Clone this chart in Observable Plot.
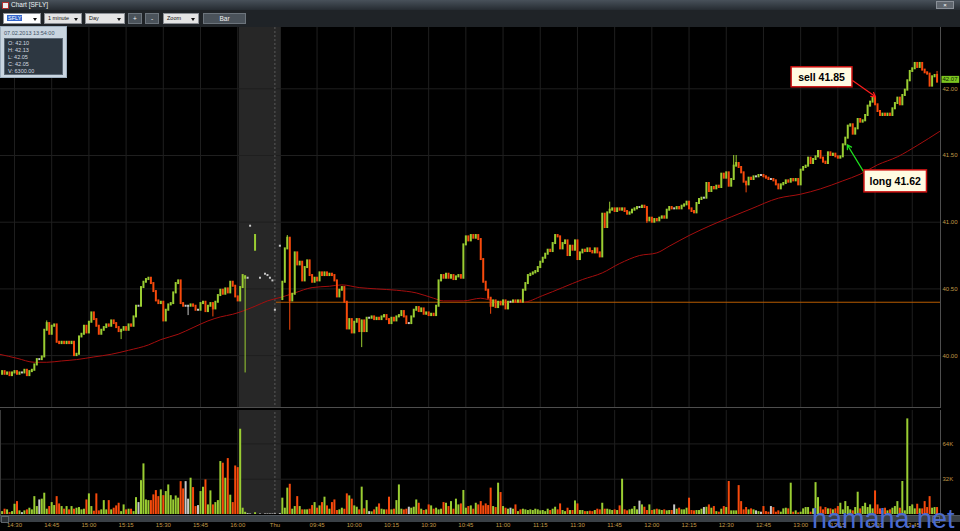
<!DOCTYPE html>
<html>
<head>
<meta charset="utf-8">
<script src="https://cdn.jsdelivr.net/npm/d3@7"></script>
<script src="https://cdn.jsdelivr.net/npm/@observablehq/plot@0.6"></script>
<style>
html,body{margin:0;padding:0;background:#000;}
#wrap{position:relative;width:960px;height:531px;overflow:hidden;background:#000;font-family:"Liberation Sans",Arial,sans-serif;}
#wrap svg{position:absolute;left:0;z-index:1;}
.a{position:absolute;box-sizing:border-box;z-index:2;}
#titlebar{left:0;top:0;width:960px;height:10px;background:linear-gradient(#48515a,#262c32);}
#icon{left:2px;top:1.5px;width:7px;height:7px;background:#eeeeee;border:1px solid #b03030;}
#title{left:11px;top:0;height:10px;line-height:10px;font-size:6.5px;color:#eef2f5;white-space:nowrap;}
#closebtn{left:936px;top:1px;width:18px;height:8px;background:#5f666e;border:1px solid #8a9098;color:#fff;font-size:6px;line-height:6px;text-align:center;}
#toolbar{left:0;top:10px;width:960px;height:17px;background:#1f2327;}
.sel{top:13px;height:11px;background:#e4e4e4;border:1px solid #8c9096;font-size:5.5px;line-height:9px;color:#111;padding-left:3px;white-space:nowrap;}
.sel::after{content:"";position:absolute;right:3px;top:3.5px;border-left:2.5px solid transparent;border-right:2.5px solid transparent;border-top:3px solid #111;}
.btn{top:13px;height:11px;background:#4a525a;border:1px solid #6c747c;font-size:6.5px;line-height:9px;color:#f0f0f0;text-align:center;}
#sym{background:#fff;}
#sym span{background:#3366cc;color:#fff;padding:0 1px;}
#info{left:0;top:26px;width:67px;height:52px;background:#c9d5e0;border:1px solid #9fb0c0;}
#infohead{position:absolute;left:3px;top:3px;font-size:5.5px;color:#3e5064;white-space:nowrap;}
#infobody{position:absolute;left:3px;top:11px;width:59px;height:37px;background:#2d3741;border:1px solid #5b6875;font-size:5.5px;color:#d5dbe0;line-height:6.9px;padding:1px 0 0 3px;box-sizing:border-box;white-space:pre;}
#sep{left:0;top:407px;width:941px;height:1px;background:#4e4e4e;}
#rax1{left:940px;top:27px;width:1px;height:381px;background:#4e4e4e;}
#rax2{left:940px;top:410px;width:1px;height:105px;background:#4e4e4e;}
#lax2{left:0;top:410px;width:1px;height:105px;background:#3a3a3a;}
#scroll{left:0;top:515px;width:960px;height:7px;background:#3a4046;border-top:1px solid #50575e;}
#scroll .l,#scroll .r{position:absolute;top:0;width:6px;height:5px;background:#2a2f34;border:1px solid #5c636a;}
#scroll .l{left:1px;}#scroll .r{right:20px;}
#wm{left:812px;top:508px;font-size:27px;line-height:22px;height:22px;color:#4a6bd0;white-space:nowrap;z-index:3;}
</style>
</head>
<body>
<div id="wrap">
  <div class="a" id="titlebar"></div>
  <div class="a" id="icon"></div>
  <div class="a" id="title"></div>
  <div class="a" id="closebtn">×</div>
  <div class="a" id="toolbar"></div>
  <div class="a sel" id="sym" style="left:3px;width:38px;"><span></span></div>
  <div class="a sel" id="interval" style="left:44px;width:38px;"></div>
  <div class="a sel" id="range" style="left:85px;width:40px;"></div>
  <div class="a btn" id="plus" style="left:128px;width:14px;"></div>
  <div class="a btn" id="minus" style="left:145px;width:14px;"></div>
  <div class="a sel" id="zoomsel" style="left:163px;width:36px;"></div>
  <div class="a btn" id="barbtn" style="left:203px;width:43px;"></div>
  <div class="a" id="info"><div id="infohead"></div><div id="infobody"></div></div>
  <div class="a" id="sep"></div>
  <div class="a" id="rax1"></div>
  <div class="a" id="rax2"></div>
  <div class="a" id="lax2"></div>
  <div class="a" id="scroll"><div class="l"></div><div class="r"></div></div>
  <div class="a" id="wm"></div>
</div>
<script>
// ---------------- DATA ----------------
const windowTitle = "Chart [SFLY]";
const symbol = "SFLY";
const intervalText = "1 minute";
const rangeText = "Day";
const zoomText = "Zoom";
const barText = "Bar";
const watermark = "hamaha.net";
const quoteTime = "07.02.2013 13:54:00";

// bar index k: 14:30 Wed = 0, one bar per minute
const tickK = [0,15,30,45,60,75,90,105,122,137,152,167,182,197,212,227,242,257,272,287,302,317,332,347,362];
const tickLabel = ["14:30","14:45","15:00","15:15","15:30","15:45","16:00","Thu","09:45","10:00","10:15","10:30","10:45","11:00","11:15","11:30","11:45","12:00","12:15","12:30","12:45","13:00","13:15","13:30","13:45"];
const priceTicks = [40.00, 40.50, 41.00, 41.50, 42.00];
const volumeTicks = [32, 64]; // thousands

// Wednesday session (k = -5 .. 92)
const wedStartK = -5;
const wedFirstOpen = 39.86;
const wedClose = [
 39.88,39.86,39.87,39.85,39.87,39.88,39.86,39.87,39.87,39.89,
 39.85,39.88,39.89,39.93,39.97,39.97,39.99,40.19,40.24,40.16,
 40.22,40.23,40.10,40.09,40.10,40.09,40.10,40.09,40.10,40.00,
 40.01,40.14,40.16,40.22,40.17,40.25,40.32,40.27,40.22,40.16,
 40.19,40.21,40.23,40.22,40.26,40.24,40.21,40.18,40.19,40.21,
 40.19,40.23,40.22,40.29,40.37,40.37,40.51,40.55,40.57,40.58,
 40.54,40.48,40.41,40.39,40.40,40.26,40.34,40.38,40.39,40.47,
 40.54,40.56,40.39,40.37,40.37,40.37,40.38,40.37,40.34,40.34,
 40.39,40.40,40.33,40.37,40.39,40.35,40.40,40.45,40.49,40.46,
 40.50,40.47,40.55,40.52,40.44,40.41,40.51,40.60];
const wedVolume = [
 2.6,4.8,4.2,1.7,2.6,9.3,11.7,3.3,1.7,3.3,
 4.2,5.7,4.2,16.2,7.2,13.2,13.9,19.3,4.8,7.2,
 10.8,8.1,16.2,9.6,7.2,4.8,7.2,4.2,7.2,4.8,
 5.7,6.3,4.2,4.8,13.2,18.7,7.2,3.0,18.7,3.3,
 4.2,12.6,4.2,12.6,4.2,5.7,7.8,10.2,2.6,8.7,
 4.2,4.8,4.8,2.6,15.3,10.8,30.7,45.9,13.2,12.6,
 12.6,17.8,21.7,16.2,22.3,17.1,20.8,26.8,17.1,13.2,
 16.8,14.8,29.8,23.2,29.8,13.9,32.9,24.4,7.2,8.1,
 20.8,24.7,31.4,8.7,21.4,8.7,10.8,12.6,48,46.5,
 32.9,50.7,17.5,10.8,44,42.5,77.3,5.7];

// extended-hours prints
const ahK      = [93, 94, 95, 97, 99, 101, 102, 103, 104, 105, 107];
const ahOpen   = [40.58,40.58,40.97,40.79,40.58,40.61,40.60,40.58,40.56,40.34,40.82];
const ahClose  = [40.59,40.58,40.97,40.90,40.58,40.61,40.60,40.58,40.56,40.34,40.82];
const ahVolume = [2.0,0.8,0.5,1.6,0.5,0.5,0.5,0.5,0.5,0.6,0.8];

// Thursday session (k = 108 .. 372)
const thuStartK = 108;
const thuFirstOpen = 40.42;
const thuClose = [
 40.55,40.80,40.88,40.41,40.46,40.77,40.68,40.70,40.56,40.66,
 40.71,40.60,40.55,40.58,40.56,40.62,40.60,40.62,40.60,40.61,
 40.60,40.56,40.44,40.49,40.51,40.40,40.20,40.27,40.17,40.25,
 40.27,40.18,40.26,40.18,40.28,40.28,40.29,40.27,40.28,40.27,
 40.29,40.30,40.27,40.24,40.28,40.26,40.29,40.30,40.33,40.29,
 40.24,40.24,40.29,40.34,40.36,40.33,40.35,40.31,40.32,40.30,
 40.31,40.30,40.37,40.56,40.60,40.58,40.61,40.58,40.60,40.57,
 40.59,40.60,40.58,40.83,40.89,40.86,40.90,40.88,40.90,40.87,
 40.72,40.55,40.49,40.43,40.37,40.41,40.36,40.40,40.38,40.41,
 40.35,40.40,40.40,40.41,40.40,40.41,40.40,40.49,40.54,40.60,
 40.61,40.62,40.63,40.66,40.70,40.73,40.76,40.79,40.78,40.84,
 40.90,40.89,40.80,40.84,40.86,40.75,40.82,40.79,40.86,40.72,
 40.77,40.79,40.78,40.80,40.78,40.77,40.80,40.77,40.74,41.06,
 40.96,41.07,41.09,41.10,41.08,41.10,41.09,41.10,41.08,41.06,
 41.07,41.09,41.10,41.11,41.11,41.12,41.11,41.01,41.03,41.00,
 41.02,41.01,41.03,41.04,41.03,41.09,41.11,41.10,41.10,41.11,
 41.10,41.12,41.13,41.15,41.10,41.08,41.07,41.14,41.17,41.18,
 41.18,41.29,41.23,41.26,41.25,41.27,41.26,41.36,41.33,41.37,
 41.27,41.32,41.42,41.44,41.41,41.37,41.30,41.28,41.33,41.32,
 41.34,41.34,41.35,41.35,41.34,41.33,41.32,41.32,41.31,41.28,
 41.25,41.28,41.29,41.31,41.30,41.32,41.31,41.32,41.28,41.39,
 41.41,41.42,41.48,41.44,41.47,41.49,41.53,41.48,41.45,41.44,
 41.52,41.50,41.51,41.49,41.48,41.49,41.58,41.63,41.72,41.73,
 41.66,41.70,41.77,41.75,41.76,41.80,41.87,41.90,41.93,41.88,
 41.83,41.80,41.81,41.80,41.81,41.80,41.85,41.89,41.93,41.88,
 41.95,41.99,42.06,42.13,42.15,42.19,42.16,42.19,42.14,42.12,
 42.11,42.02,42.09,42.10,42.05];
const thuVolume = [
 14.8,5.7,23.9,27.4,4.8,7.2,16.2,7.2,4.2,4.2,
 4.2,4.8,8.1,10.8,5.7,7.8,10.8,15.7,7.8,4.8,
 10.8,13.2,3.6,4.2,5.7,4.8,18.7,16.9,13.9,7.8,
 6.6,4.2,24.8,5.1,12.6,2.6,2.4,4.2,6.6,9.6,
 4.8,4.2,4.2,15.7,4.2,4.8,12.6,26.8,4.8,4.2,
 4.8,6.6,5.7,6.6,13.2,10.2,4.8,3.6,4.2,8.7,
 7.8,4.8,5.7,4.2,4.8,10.8,10.2,7.2,11.7,4.8,
 13.9,8.7,9.6,21.8,5.7,7.2,7.8,4.8,10.2,8.7,
 11.7,7.8,9.6,8.1,23.9,7.2,6.3,28.4,19.9,7.2,
 5.7,4.8,5.7,4.8,8.7,2.6,4.2,4.8,4.2,3.6,
 4.2,3.6,4.8,4.2,3.3,3.6,2.6,4.8,3.6,4.8,
 6.6,4.2,9.6,3.6,2.6,5.7,3.6,3.6,12.3,9.6,
 3.6,3.6,2.6,2.6,3.0,2.6,3.6,4.8,4.2,10.2,
 4.8,4.8,4.2,3.6,4.2,3.6,7.8,32.0,4.2,3.3,
 4.2,4.8,7.2,4.2,12.1,8.7,6.6,3.6,8.7,3.6,
 4.2,4.8,4.2,3.6,4.2,3.3,3.6,3.6,8.7,4.8,
 5.7,4.2,4.2,5.7,14.8,3.6,3.3,3.6,3.6,4.8,
 6.3,6.6,8.7,5.7,7.2,2.6,2.1,4.8,7.2,6.3,
 29.9,3.3,3.3,3.3,26.2,11.7,4.2,6.3,4.2,5.1,
 4.2,3.3,2.6,2.1,7.2,2.6,2.1,7.2,6.3,2.1,
 3.3,2.1,5.1,5.7,5.1,28.4,2.1,3.3,1.5,2.1,
 5.1,6.3,6.3,2.1,5.1,28.9,15.3,6.9,4.2,6.3,
 5.1,5.1,4.2,5.1,7.2,10.2,4.2,11.7,7.2,4.2,
 3.3,6.3,20.2,5.1,7.2,10.2,6.3,8.7,5.1,21.4,
 8.7,5.1,3.3,5.7,3.3,4.2,5.7,7.2,11.7,5.7,
 29.9,3.3,86.7,7.2,8.7,5.1,9.3,5.1,5.1,11.7,
 6.3,16.2,5.7,6.3,6.3];

// bars whose high/low extend beyond the body
const wickK    = [13, 43, 70, 80, 93, 110, 111, 140, 192, 240, 255, 290, 291, 295, 347, 372];
const wickHigh = [40.26,null,null,null,40.60,40.90,null,null,null,41.15,null,41.50,41.50,null,41.94,42.13];
const wickLow  = [null,40.12,40.30,40.29,39.87,null,40.19,40.06,40.31,null,40.99,null,null,41.22,null,null];

// moving average (dark red line)
const maK = [-6,1,8,13,19,25,32,39,46,54,59,66,72,78,83,88,93,97,102,108,113,120,127,132,139,146,154,162,169,173,181,188,191,197,205,213,221,229,237,244,252,259,264,272,280,285,289,297,308,317,325,334,341,348,356,364,373];
const maValue = [40.01,39.98,39.95,39.95,39.96,39.97,39.99,40.01,40.04,40.08,40.12,40.16,40.21,40.26,40.29,40.31,40.34,40.37,40.41,40.44,40.47,40.51,40.52,40.53,40.51,40.50,40.49,40.47,40.43,40.41,40.41,40.43,40.42,40.40,40.40,40.45,40.51,40.57,40.62,40.69,40.75,40.77,40.82,40.90,40.97,41.01,41.04,41.10,41.18,41.21,41.25,41.31,41.36,41.43,41.49,41.575,41.68];

// previous close level, drawn from the start of Thursday's session
const priorClose = [{level: 40.40, fromK: 105.6}];
// extended-hours span (shaded)
const afterHours = [{from: 90.6, to: 107.6}];
// last quote tag
const lastQuote = [{price: 42.07}];

// trade annotations
const annotations = [
  {label: "sell 41.85", k: 325.4, p: 42.085, fromK: 337.9, fromP: 42.062, toK: 347.2, toP: 41.94, color: "#ff1c1c"},
  {label: "long 41.62", k: 355.1, p: 41.305, fromK: 342.5, fromP: 41.375, toK: 335.8, toP: 41.58, color: "#1fe01f"}
];

// ---------------- BUILD ----------------
const UP = "#9acd32", DOWN = "#f84a0c", FLAT = "#c8c8c8", GRID = "#1f1f1f", AXIS = "#c09a48";
const X_DOMAIN = [-5.645, 373.39];
const PRICE_DOMAIN = [39.611, 42.4595];
const VOL_DOMAIN = [0, 94.3];

const bars = [];
function pushSession(startK, firstOpen, closes, vols) {
  let o = firstOpen;
  closes.forEach((c, i) => { bars.push({k: startK + i, open: o, close: c, volume: vols[i]}); o = c; });
}
pushSession(wedStartK, wedFirstOpen, wedClose, wedVolume);
ahK.forEach((k, i) => bars.push({k, open: ahOpen[i], close: ahClose[i], volume: ahVolume[i]}));
pushSession(thuStartK, thuFirstOpen, thuClose, thuVolume);
bars.sort((a, b) => a.k - b.k);
const byK = new Map(bars.map(b => [b.k, b]));
bars.forEach(b => { b.high = Math.max(b.open, b.close); b.low = Math.min(b.open, b.close); b.wick = false; });
wickK.forEach((k, i) => {
  const b = byK.get(k); if (!b) return;
  if (wickHigh[i] != null) b.high = wickHigh[i];
  if (wickLow[i] != null) b.low = wickLow[i];
  b.wick = true;
});
const colorOf = b => b.close > b.open ? UP : b.close < b.open ? DOWN : FLAT;
const maPoints = maK.map((k, i) => ({k, v: maValue[i]}));
const gridKs = tickK.filter((k, i) => tickLabel[i] !== "Thu");
const dayBreakKs = tickK.filter((k, i) => tickLabel[i] === "Thu");
const labelOf = new Map(tickK.map((k, i) => [k, tickLabel[i]]));

// ---------------- HTML chrome ----------------
document.getElementById("title").textContent = windowTitle;
document.querySelector("#sym span").textContent = symbol;
document.getElementById("interval").textContent = intervalText;
document.getElementById("range").textContent = rangeText;
document.getElementById("plus").textContent = "+";
document.getElementById("minus").textContent = "-";
document.getElementById("zoomsel").textContent = zoomText;
document.getElementById("barbtn").textContent = barText;
document.getElementById("wm").textContent = watermark;
const last = bars[bars.length - 1];
document.getElementById("infohead").textContent = quoteTime;
document.getElementById("infobody").textContent =
  "O: " + last.open.toFixed(2) + "\nH: " + last.high.toFixed(2) + "\nL: " + last.low.toFixed(2) +
  "\nC: " + last.close.toFixed(2) + "\nV: " + (last.volume * 1000).toFixed(2);

// ---------------- PLOTS ----------------
const baseStyle = {background: "#000", color: AXIS, fontFamily: "'Liberation Sans', Arial, sans-serif", fontSize: "6px"};

const priceSvg = Plot.plot({
  width: 960, height: 380,
  marginLeft: 0, marginRight: 20, marginTop: 0, marginBottom: 0,
  style: baseStyle,
  color: {type: "identity"},
  x: {domain: X_DOMAIN, axis: null},
  y: {domain: PRICE_DOMAIN, axis: "right", ticks: priceTicks, tickFormat: d => d.toFixed(2), tickSize: 0, tickPadding: 2, label: null},
  marks: [
    Plot.rect(afterHours, {x1: "from", x2: "to", y1: () => PRICE_DOMAIN[0], y2: () => PRICE_DOMAIN[1], fill: "#272727"}),
    Plot.ruleY(priceTicks, {stroke: GRID}),
    Plot.ruleX(gridKs, {stroke: GRID}),
    Plot.ruleX(dayBreakKs, {stroke: "#5a5a5a", strokeDasharray: "2,2"}),
    Plot.ruleY(priorClose, {y: "level", x1: "fromK", x2: () => X_DOMAIN[1], stroke: "#b85c00"}),
    Plot.line(maPoints, {x: "k", y: "v", stroke: "#a50e0e", strokeWidth: 1, curve: "monotone-x"}),
    Plot.ruleX(bars.filter(b => b.wick), {x: "k", y1: "low", y2: "high", stroke: colorOf, strokeWidth: 1}),
    Plot.ruleX(bars, {x: "k", y1: "open", y2: "close", stroke: colorOf, strokeWidth: 2, strokeLinecap: "square"}),
    Plot.arrow(annotations, {x1: "fromK", y1: "fromP", x2: "toK", y2: "toP", stroke: "color", strokeWidth: 1.2, headLength: 6}),
    Plot.text(annotations, {x: "k", y: "p", text: "label", fill: "#000", fontSize: 10.5, fontWeight: "bold", fontFamily: "'Liberation Sans', Arial, sans-serif"}),
    Plot.text(lastQuote, {x: () => X_DOMAIN[1], y: "price", text: d => d.price.toFixed(2), dx: 9.5, fill: "#0c2400", fontSize: 6})
  ]
});
priceSvg.style.top = "27px";

const volSvg = Plot.plot({
  width: 960, height: 124,
  marginLeft: 0, marginRight: 20, marginTop: 3, marginBottom: 17,
  style: baseStyle,
  color: {type: "identity"},
  x: {domain: X_DOMAIN, ticks: tickK, tickFormat: k => labelOf.get(k), tickSize: 0, tickPadding: 8.5, label: null},
  y: {domain: VOL_DOMAIN, axis: "right", ticks: volumeTicks, tickFormat: d => d + "K", tickSize: 0, tickPadding: 2, label: null},
  marks: [
    Plot.rect(afterHours, {x1: "from", x2: "to", y1: () => VOL_DOMAIN[0], y2: () => VOL_DOMAIN[1], fill: "#272727"}),
    Plot.ruleY(volumeTicks, {stroke: GRID}),
    Plot.ruleX(gridKs, {stroke: GRID, y1: () => VOL_DOMAIN[0], y2: () => VOL_DOMAIN[1]}),
    Plot.ruleX(dayBreakKs, {stroke: "#5a5a5a", strokeDasharray: "2,2", y1: () => VOL_DOMAIN[0], y2: () => VOL_DOMAIN[1]}),
    Plot.ruleX(bars, {x: "k", y1: () => 0, y2: "volume", stroke: colorOf, strokeWidth: 2})
  ]
});
volSvg.style.top = "407px";

const wrap = document.getElementById("wrap");
wrap.insertBefore(volSvg, wrap.firstChild);
wrap.insertBefore(priceSvg, wrap.firstChild);

// boxes behind annotation texts
function boxLabels(svg, specs) {
  Array.from(svg.querySelectorAll("text")).forEach(t => {
    const s = specs.find(s => s.text === t.textContent);
    if (!s) return;
    const b = t.getBBox();
    const r = document.createElementNS("http://www.w3.org/2000/svg", "rect");
    r.setAttribute("x", b.x - s.padX);
    r.setAttribute("y", b.y - s.padY);
    r.setAttribute("width", b.width + 2 * s.padX);
    r.setAttribute("height", b.height + 2 * s.padY);
    r.setAttribute("fill", s.fill);
    r.setAttribute("stroke", s.stroke);
    r.setAttribute("stroke-width", s.sw);
    const tr = t.getAttribute("transform");
    if (tr) r.setAttribute("transform", tr);
    t.parentNode.insertBefore(r, t);
  });
}
boxLabels(priceSvg, [
  {text: annotations[0].label, fill: "#fffbe2", stroke: "#cc1111", sw: 1.5, padX: 7, padY: 4},
  {text: annotations[1].label, fill: "#fffbe2", stroke: "#cc1111", sw: 1.5, padX: 5.5, padY: 5},
  {text: lastQuote[0].price.toFixed(2), fill: "#7cc520", stroke: "none", sw: 0, padX: 1, padY: 0.5}
]);
</script>
</body>
</html>
